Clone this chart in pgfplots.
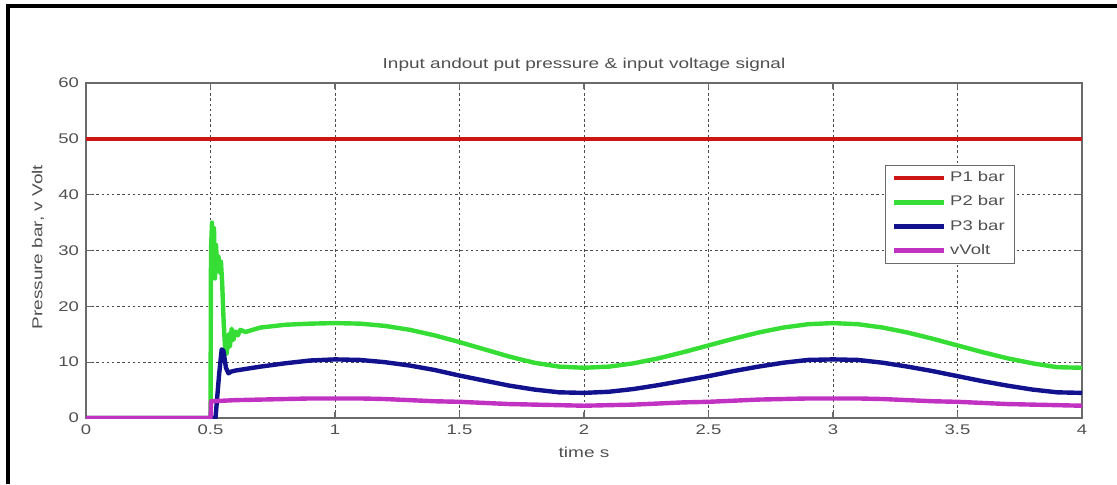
\documentclass[border=0pt]{standalone}
\usepackage{pgfplots}
\pgfplotsset{compat=1.18}
\usepackage{fontspec}
\setmainfont{Liberation Sans}
\newfontfamily\widefont[FakeStretch=1.32]{Liberation Sans}
\definecolor{cP1}{HTML}{CC1515}
\definecolor{cP2}{HTML}{35DD35}
\definecolor{cP3}{HTML}{12128F}
\definecolor{cV}{HTML}{C232C2}
\definecolor{axgray}{HTML}{6A6A6A}
\definecolor{txtgray}{HTML}{505050}
\begin{document}
\begin{tikzpicture}
\useasboundingbox (0,0) rectangle (558.5pt,242pt);
\draw[line width=1.6pt,black] (4pt,0pt) -- (4pt,239pt) -- (558.5pt,239pt);
\begin{axis}[
  at={(43pt,33pt)}, anchor=south west,
  scale only axis, width=498pt, height=167.5pt,
  xmin=0, xmax=4, ymin=0, ymax=60,
  xtick={0,0.5,1,1.5,2,2.5,3,3.5,4},
  ytick={0,10,20,30,40,50,60},
  grid=major,
  major grid style={gray!60!black, line width=0.45pt, dash pattern=on 1.2pt off 1.4pt},
  axis line style={axgray, line width=0.8pt},
  tick style={axgray, line width=0.6pt},
  tick align=inside, major tick length=3pt,
  /pgf/number format/assume math mode=true,
  ticklabel style={font=\widefont\fontsize{7}{8}\selectfont, text=txtgray},
  title={Input andout put pressure \& input voltage signal},
  title style={at={(0.5,1)}, anchor=base, yshift=1.5pt, font=\widefont\fontsize{7.2}{8}\selectfont, text=txtgray},
  xlabel={time s},
  xlabel style={at={(0.5,0)}, anchor=base, yshift=-19.5pt, font=\widefont\fontsize{7.2}{8}\selectfont, text=txtgray},
  ylabel={Pressure bar, v Volt},
  ylabel style={at={(0,0.51)}, anchor=center, yshift=24pt, font=\widefont\fontsize{7.2}{8}\selectfont, text=txtgray},
  legend style={at={(0.933,0.755)}, anchor=north east, draw=axgray, line width=0.6pt,
    font=\widefont\fontsize{7}{8}\selectfont, text=txtgray, row sep=1.5pt, inner xsep=3pt, inner ysep=1pt,
    cells={anchor=west}},
  legend cell align=left,
  legend image code/.code={\draw[#1, line width=2.2pt] (0pt,0pt) -- (25pt,0pt);},
  every axis plot/.append style={line width=2.2pt, line join=round},
]
\addplot[cP1] coordinates {(0,50) (4,50)};
\addlegendentry{P1 bar}
\addplot[cP2] coordinates {
(0,0) (0.5,0) (0.502,30) (0.506,35) (0.51,26) (0.514,34) (0.518,25) (0.522,31)
(0.527,27) (0.532,29) (0.537,26) (0.542,28) (0.547,24) (0.553,17) (0.558,13)
(0.565,11.5) (0.572,15) (0.578,12.8) (0.585,16) (0.592,14) (0.6,15.5) (0.61,14.8)
(0.62,15.8) (0.64,15.4) (0.7,16.2) (0.8,16.7) (0.9,16.9) (1.0,17) (1.1,16.9)
(1.2,16.5) (1.3,15.8) (1.4,14.8) (1.5,13.6) (1.6,12.3) (1.7,11) (1.8,9.9)
(1.9,9.2) (2.0,9) (2.1,9.2) (2.2,9.8) (2.3,10.7) (2.4,11.8) (2.5,13) (2.6,14.2)
(2.7,15.3) (2.8,16.2) (2.9,16.8) (3.0,17) (3.1,16.8) (3.2,16.2) (3.3,15.3)
(3.4,14.2) (3.5,13) (3.6,11.8) (3.7,10.7) (3.8,9.8) (3.9,9.1) (4.0,9)};
\addlegendentry{P2 bar}
\addplot[cP3] coordinates {
(0,0) (0.52,0) (0.535,8) (0.545,12.3) (0.552,12) (0.562,9) (0.572,8) (0.582,8.3)
(0.6,8.5) (0.7,9.2) (0.8,9.8) (0.9,10.3) (1.0,10.5) (1.1,10.4) (1.2,10) (1.3,9.4)
(1.4,8.6) (1.5,7.6) (1.6,6.7) (1.7,5.8) (1.8,5.1) (1.9,4.6) (2.0,4.5) (2.1,4.7)
(2.2,5.2) (2.3,5.9) (2.4,6.7) (2.5,7.5) (2.6,8.4) (2.7,9.2) (2.8,9.9) (2.9,10.4)
(3.0,10.5) (3.1,10.4) (3.2,9.9) (3.3,9.2) (3.4,8.4) (3.5,7.5) (3.6,6.6) (3.7,5.8)
(3.8,5.1) (3.9,4.6) (4.0,4.5)};
\addlegendentry{P3 bar}
\addplot[cV] coordinates {
(0,0) (0.5,0) (0.502,3.0) (0.6,3.2) (0.7,3.3) (0.8,3.4) (0.9,3.5) (1.0,3.5)
(1.1,3.5) (1.2,3.4) (1.3,3.2) (1.4,3.0) (1.5,2.9) (1.6,2.7) (1.7,2.5) (1.8,2.4)
(1.9,2.3) (2.0,2.2) (2.1,2.3) (2.2,2.4) (2.3,2.6) (2.4,2.8) (2.5,2.9) (2.6,3.1)
(2.7,3.3) (2.8,3.4) (2.9,3.5) (3.0,3.5) (3.1,3.5) (3.2,3.4) (3.3,3.2) (3.4,3.0)
(3.5,2.9) (3.6,2.7) (3.7,2.5) (3.8,2.4) (3.9,2.3) (4.0,2.2)};
\addlegendentry{vVolt}
\end{axis}
\end{tikzpicture}
\end{document}
